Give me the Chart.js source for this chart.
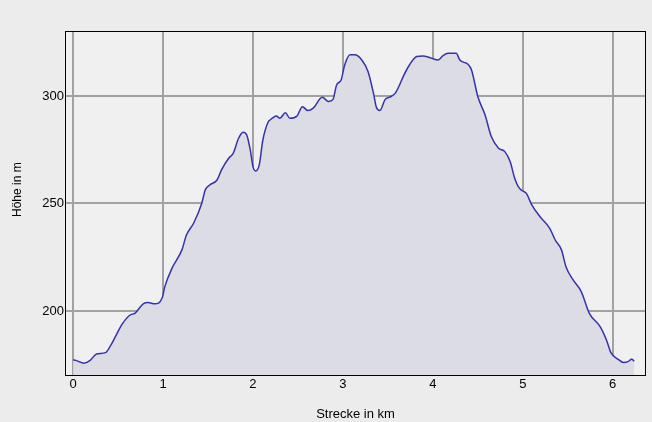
<!DOCTYPE html>
<html>
<head>
<meta charset="utf-8">
<script src="https://cdn.jsdelivr.net/npm/chart.js@4/dist/chart.umd.min.js"></script>
<style>
  html, body { margin: 0; padding: 0; background: #ececec; }
  #wrap { width: 652px; height: 422px; }
</style>
</head>
<body>
<div id="wrap"><canvas id="profile"></canvas></div>
<script>
// distance along the route (km) and elevation (m)
const distKm = [0.00, 0.03, 0.12, 0.19, 0.26, 0.36, 0.41, 0.47, 0.54, 0.63, 0.69, 0.78, 0.83, 0.91, 0.99,
  1.02, 1.10, 1.21, 1.26, 1.34, 1.43, 1.47, 1.52, 1.60, 1.65, 1.73, 1.78, 1.84, 1.89, 1.93, 1.97,
  2.00, 2.03, 2.07, 2.11, 2.17, 2.19, 2.26, 2.30, 2.36, 2.41, 2.49, 2.55, 2.61, 2.67, 2.77, 2.84, 2.89, 2.93, 2.98,
  3.02, 3.08, 3.13, 3.21, 3.28, 3.34, 3.37, 3.41, 3.47, 3.52, 3.58, 3.63, 3.67, 3.74, 3.82, 3.89, 3.97,
  4.06, 4.11, 4.17, 4.26, 4.30, 4.39, 4.43, 4.50, 4.58, 4.65, 4.73, 4.80, 4.86, 4.91, 4.95, 4.99,
  5.04, 5.10, 5.19, 5.30, 5.36, 5.43, 5.48, 5.56, 5.65, 5.74, 5.86, 5.93, 5.98,
  6.06, 6.12, 6.17, 6.21, 6.24];
const heightM = [177.2, 177.0, 175.7, 177.0, 180.0, 180.6, 183.4, 188.0, 193.5, 198.0, 199.0, 203.3, 203.9, 203.3, 206.0,
  211.3, 219.9, 228.4, 235.3, 240.8, 250.0, 256.3, 258.6, 260.9, 265.6, 271.0, 273.3, 280.3, 283.1, 281.9, 274.9,
  267.1, 265.1, 267.9, 279.5, 288.0, 288.8, 290.7, 289.6, 292.2, 289.6, 290.7, 295.0, 293.2, 294.3, 299.4, 297.4, 298.4, 305.1, 307.4,
  314.4, 319.1, 319.1, 316.7, 311.3, 301.2, 295.0, 293.2, 298.4, 299.4, 301.2, 305.1, 309.0, 314.4, 318.3, 318.6, 317.8,
  316.7, 318.6, 319.8, 319.8, 316.7, 314.7, 312.1, 299.7, 291.2, 281.1, 275.7, 274.1, 269.4, 261.7, 257.8, 256.0,
  254.7, 249.3, 243.9, 238.4, 233.0, 228.4, 220.6, 214.4, 209.0, 198.9, 192.7, 186.5, 180.6,
  177.5, 176.0, 176.4, 177.5, 176.7];
const xTicks = [0, 1, 2, 3, 4, 5, 6];
const yTicks = [200, 250, 300];

const frame = {
  id: 'frame',
  beforeDraw(chart) {
    const { ctx, chartArea: a, width, height } = chart;
    ctx.save();
    ctx.fillStyle = '#ececec';
    ctx.fillRect(0, 0, width, height);
    ctx.fillStyle = '#f0f0f0';
    ctx.fillRect(a.left, a.top, a.right - a.left, a.bottom - a.top);
    ctx.restore();
  },
  afterDraw(chart) {
    const { ctx, chartArea: a } = chart;
    ctx.save();
    ctx.strokeStyle = '#000';
    ctx.lineWidth = 1;
    ctx.strokeRect(a.left + 0.5, a.top + 0.5, a.right - a.left - 1, a.bottom - a.top);
    ctx.restore();
  }
};

Chart.defaults.font.family = 'Arial, "Liberation Sans", sans-serif';
Chart.defaults.font.size = 13;
Chart.defaults.color = '#000';

new Chart(document.getElementById('profile').getContext('2d'), {
  type: 'line',
  data: {
    datasets: [{
      data: distKm.map((d, i) => ({ x: d, y: heightM[i] })),
      borderColor: '#3434aa',
      borderWidth: 1.5,
      backgroundColor: '#dcdce5',
      fill: 'start',
      pointRadius: 0,
      cubicInterpolationMode: 'monotone'
    }]
  },
  options: {
    responsive: true,
    maintainAspectRatio: false,
    animation: false,
    layout: { padding: { top: 31, right: 6, bottom: 0, left: 0 } },
    plugins: { legend: { display: false }, tooltip: { enabled: false } },
    scales: {
      x: {
        type: 'linear',
        min: -0.09,
        max: 6.37,
        afterBuildTicks: s => { s.ticks = xTicks.map(v => ({ value: v })); },
        afterFit: s => { s.height = 47; },
        grid: { color: '#a2a2a2', lineWidth: 2, drawTicks: false },
        border: { display: false },
        ticks: { padding: 2, maxRotation: 0, color: '#000' },
        title: { display: true, text: 'Strecke in km', padding: { top: 11, bottom: 0 }, color: '#000' }
      },
      y: {
        min: 170.2,
        max: 330.2,
        afterBuildTicks: s => { s.ticks = yTicks.map(v => ({ value: v })); },
        afterFit: s => { s.width = 65; },
        grid: { color: '#a2a2a2', lineWidth: 2, drawTicks: false },
        border: { display: false },
        ticks: { padding: 1, color: '#000' },
        title: {
          display: true,
          text: '        Höhe in m',
          font: { size: 12 },
          padding: { top: 10, bottom: 0 },
          color: '#000'
        }
      }
    }
  },
  plugins: [frame]
});
</script>
</body>
</html>
